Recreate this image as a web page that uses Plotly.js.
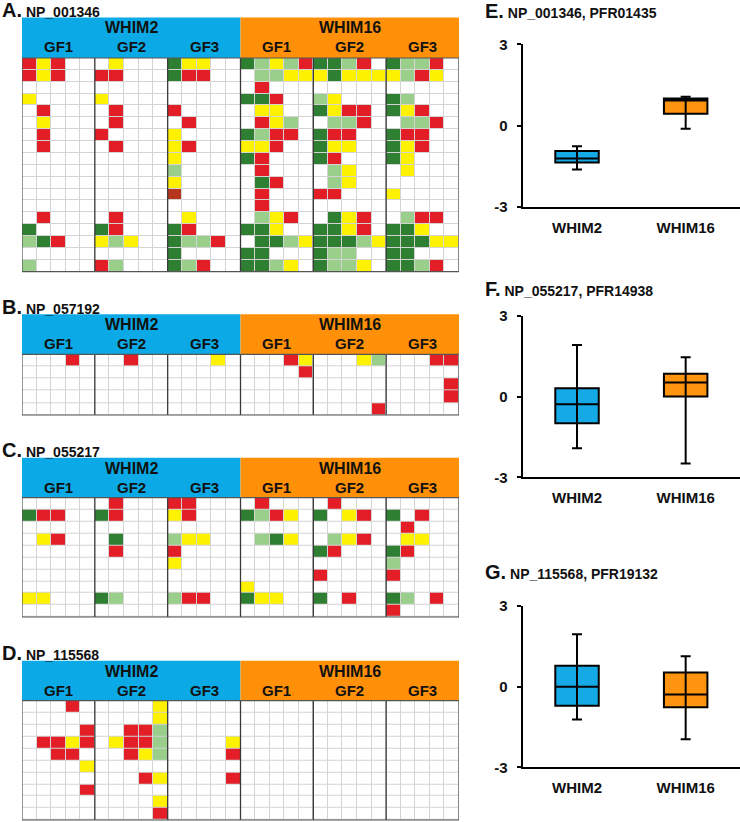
<!DOCTYPE html>
<html><head><meta charset="utf-8">
<script src="https://cdn.plot.ly/plotly-3.0.1.min.js"></script>
<style>html,body{margin:0;padding:0;background:#fff}#chart{width:740px;height:822px}</style>
</head><body><div id="chart"></div>
<script>
// ---------- data ----------
const lines = ['WHIM2', 'WHIM16'];
const gfLabels = ['GF1', 'GF2', 'GF3'];
// cell codes: . none, R red, Y yellow, L light green, G dark green, D dark red
// each row: WHIM2 GF1|GF2|GF3 | WHIM16 GF1|GF2|GF3 (5 columns each)
const panelA = [
  'RYR.. .Y... GYY.. GLYLR GGLR. GLLR.',
  'RYR.. RR... GRR.. .LLYY YGYYY YLRY.',
  '..... ..... ..... .R... ..... .....',
  'Y.... Y.... ..... GGR.. LY... GL...',
  '.R... .R... R.... .YY.. GYRR. GYR..',
  '.Y... .R... .R... .RYL. .LLR. .LLR.',
  '.R... R.... Y.... GLRR. GRR.. GRR..',
  '.R... .R... YR... YYR.. GYY.. GYR..',
  '..... ..... Y.... GR... GR... GY...',
  '..... ..... L.... .R... .LY.. .Y...',
  '..... ..... Y.... .GR.. .LY.. .....',
  '..... ..... D.... .R... RR... Y....',
  '..... ..... ..... .R... ..... .....',
  '.R... .R... .Y... .LYR. .GYR. .LRR.',
  'G.... GR... GR... GGY.. GGYR. GGY..',
  'LGR.. YLY.. GLLR. .GGLY GGGLY GGGYY',
  '..... ..... G.... GG... GLL.. GG...',
  'L.... RL... GLR.. GGLY. GLLY. GGLR.'
];
const panelB = [
  '...R. ..R.. ...Y. ...RY ...YL ...RR',
  '..... ..... ..... ....R ..... .....',
  '..... ..... ..... ..... ..... ....R',
  '..... ..... ..... ..... ..... ....R',
  '..... ..... ..... ..... ....R .....'
];
const panelC = [
  '..... .R... RR... .R... .R... .....',
  'GRR.. GR... YR... GLRY. G.YR. G.R..',
  '..... ..... ..... ..... ..... .R...',
  '.YR.. .G... LYY.. .LGY. .LYR. .YY..',
  '..... .R... R.... ..... GR... GR...',
  '..... ..... Y.... ..... ..... L....',
  '..... ..... ..... ..... R.... R....',
  '..... ..... ..... Y.... ..... .....',
  'YY... GL... LRR.. GYY.. G.R.. GL.R.',
  '..... ..... ..... ..... ..... R....'
];
const panelD = [
  '...R. ....Y ..... ..... ..... .....',
  '..... ....Y ..... ..... ..... .....',
  '....R ..RRL ..... ..... ..... .....',
  '.RRYR .YRRL ....Y ..... ..... .....',
  '..RR. ..RYL ....R ..... ..... .....',
  '....Y ..... ..... ..... ..... .....',
  '..... ...RY ....R ..... ..... .....',
  '....R ..... ..... ..... ..... .....',
  '..... ....Y ..... ..... ..... .....',
  '..... ....R ..... ..... ..... .....'
];
const proteins = ['NP_001346', 'NP_057192', 'NP_055217', 'NP_115568'];
const panelLetters = ['A.', 'B.', 'C.', 'D.'];

// box plots (E, F, G)
const boxCats = ['WHIM2', 'WHIM16'];
const boxTitles = ['NP_001346, PFR01435', 'NP_055217, PFR14938', 'NP_115568, PFR19132'];
const boxLetters = ['E.', 'F.', 'G.'];
const yTickVals = [-3, 0, 3];
const yTickText = ['-3', '0', '3'];
const eLo = [-1.63, -0.12], eQ1 = [-1.37, 0.43], eMed = [-1.22, 0.92], eQ3 = [-0.94, 1.00], eHi = [-0.77, 1.06];
const fLo = [-1.92, -2.49], fQ1 = [-0.99, 0.01], fMed = [-0.28, 0.53], fQ3 = [0.31, 0.85], fHi = [1.92, 1.47];
const gLo = [-1.22, -1.96], gQ1 = [-0.71, -0.77], gMed = [0.00, -0.29], gQ3 = [0.78, 0.53], gHi = [1.95, 1.13];

// ---------- styling ----------
const W = 740, H = 822;
const FONT = 'Liberation Sans, Arial, sans-serif';
const BLUE = '#0BAAE6', ORANGE = '#FF9008';
const BOXBLUE = '#15A9E6', BOXORANGE = '#FF9410';
const codeMap = {'.': 0, 'R': 1, 'Y': 2, 'L': 3, 'G': 4, 'D': 5};
const cellColors = ['#ffffff', '#E31E26', '#FFF200', '#99CF8A', '#2F7F33', '#B5361C'];
const colorscale = [];
cellColors.forEach((c, k) => { colorscale.push([k / 6, c]); colorscale.push([(k + 1) / 6, c]); });

const px = v => v / W;
const py = v => 1 - v / H;

const heatGeom = [
  {headerTop: 17.5, gridTop: 58, gridBottom: 271.7, labelY: 10},
  {headerTop: 314.3, gridTop: 354.3, gridBottom: 415, labelY: 306.5},
  {headerTop: 457.7, gridTop: 497.7, gridBottom: 617, labelY: 450},
  {headerTop: 660.7, gridTop: 700.7, gridBottom: 820, labelY: 653}
];
const heatX0 = 22, heatX1 = 459;
const boxGeom = [
  {top: 44.3, bottom: 206.7, labelY: 11},
  {top: 316, bottom: 477.3, labelY: 288.5},
  {top: 606, bottom: 767.3, labelY: 571.5}
];
const boxX0 = 522.7, boxX1 = 740;

const data = [];
const shapes = [];
const annotations = [];
const layout = {
  width: W, height: H, margin: {l: 0, r: 0, t: 0, b: 0},
  paper_bgcolor: '#fff', plot_bgcolor: 'rgba(0,0,0,0)',
  showlegend: false, font: {family: FONT, color: '#000'},
  shapes, annotations
};

const panels = [panelA, panelB, panelC, panelD];
const nCols = lines.length * gfLabels.length * 5;
panels.forEach((rows, i) => {
  const ax = i + 1;
  const xa = 'x' + ax, ya = 'y' + ax;
  const z = rows.map(r => r.replace(/ /g, '').split('').map(ch => codeMap[ch]));
  const g = heatGeom[i];
  data.push({
    type: 'heatmap', z, xaxis: xa, yaxis: ya,
    x: [...Array(nCols).keys()], y: [...Array(z.length).keys()],
    colorscale, zmin: -0.5, zmax: 5.5, showscale: false,
    xgap: 1, ygap: 1, hoverinfo: 'skip'
  });
  layout['xaxis' + ax] = {domain: [px(heatX0), px(heatX1)], range: [-0.5, nCols - 0.5],
    showgrid: false, zeroline: false, showticklabels: false, ticks: '', anchor: ya, fixedrange: true};
  layout['yaxis' + ax] = {domain: [py(g.gridBottom), py(g.gridTop)], range: [z.length - 0.5, -0.5],
    showgrid: false, zeroline: false, showticklabels: false, ticks: '', anchor: xa, fixedrange: true};
  // grid background
  shapes.push({type: 'rect', xref: xa + ' domain', yref: ya + ' domain', x0: 0, x1: 1, y0: 0, y1: 1,
    fillcolor: '#d4d4d4', line: {width: 0}, layer: 'below'});
  // header blocks
  lines.forEach((ln, li) => {
    const c0 = li * 15 - 0.5, c1 = c0 + 15;
    shapes.push({type: 'rect', xref: xa, yref: 'paper', x0: c0, x1: c1,
      y0: py(g.gridTop), y1: py(g.headerTop), fillcolor: li === 0 ? BLUE : ORANGE, line: {width: 0}});
    annotations.push({xref: xa, yref: 'paper', x: c0 + 7.5, y: py(g.headerTop + 10.5), text: ln,
      showarrow: false, xanchor: 'center', yanchor: 'middle',
      font: {family: FONT, size: 16, weight: 700, color: '#111'}});
    gfLabels.forEach((gf, gi) => {
      annotations.push({xref: xa, yref: 'paper', x: c0 + gi * 5 + 2.5, y: py(g.headerTop + 29.5), text: gf,
        showarrow: false, xanchor: 'center', yanchor: 'middle',
        font: {family: FONT, size: 15, weight: 700, color: '#111'}});
    });
  });
  // group separators
  for (let k = 1; k < 6; k++) {
    shapes.push({type: 'line', xref: xa, yref: ya + ' domain', x0: k * 5 - 0.5, x1: k * 5 - 0.5, y0: 0, y1: 1,
      line: {color: '#3a3a3a', width: 1.3}});
  }
  shapes.push({type: 'rect', xref: xa, yref: ya + ' domain', x0: -0.5, x1: nCols - 0.5, y0: 0, y1: 1,
    line: {color: '#555', width: 1.2}, fillcolor: 'rgba(0,0,0,0)'});
  // panel label
  annotations.push({xref: 'paper', yref: 'paper', x: 0, y: py(g.labelY), xanchor: 'left', yanchor: 'middle',
    showarrow: false, text: '<b><span style="font-size:20px">' + panelLetters[i] + '</span> ' + proteins[i] + '</b>',
    font: {family: FONT, size: 14, color: '#111'}});
});

const boxSets = [
  [eLo, eQ1, eMed, eQ3, eHi],
  [fLo, fQ1, fMed, fQ3, fHi],
  [gLo, gQ1, gMed, gQ3, gHi]
];
boxSets.forEach((s, i) => {
  const ax = i + 5;
  const xa = 'x' + ax, ya = 'y' + ax;
  const [lo, q1, med, q3, hi] = s;
  const g = boxGeom[i];
  boxCats.forEach((cat, ci) => {
    data.push({
      type: 'box', x: [cat], q1: [q1[ci]], median: [med[ci]], q3: [q3[ci]],
      lowerfence: [q1[ci]], upperfence: [q3[ci]], xaxis: xa, yaxis: ya,
      fillcolor: ci === 0 ? BOXBLUE : BOXORANGE, line: {color: '#000', width: 2},
      width: 0.4, boxpoints: false, hoverinfo: 'skip'
    });
  });
  data.push({
    type: 'scatter', mode: 'markers', x: boxCats, y: med, xaxis: xa, yaxis: ya,
    marker: {size: 1, color: '#000'}, hoverinfo: 'skip',
    error_y: {type: 'data', symmetric: false, array: hi.map((h, k) => h - med[k]),
      arrayminus: lo.map((l, k) => med[k] - l), color: '#000', thickness: 2, width: 5}
  });
  layout['xaxis' + ax] = {domain: [px(boxX0), px(boxX1)], type: 'category', range: [-0.5, 1.5],
    categoryarray: boxCats, showline: true, linecolor: '#000', linewidth: 2, ticks: '',
    showgrid: false, zeroline: false, anchor: ya, ticklabelstandoff: 6,
    tickfont: {family: FONT, size: 15, weight: 700, color: '#111'}, fixedrange: true};
  layout['yaxis' + ax] = {domain: [py(g.bottom), py(g.top)], range: [-3, 3], tickvals: yTickVals,
    ticktext: yTickText,
    showline: true, linecolor: '#000', linewidth: 2, ticks: 'outside', ticklen: 4, tickwidth: 2,
    tickcolor: '#000', showgrid: false, zeroline: false, anchor: xa, ticklabelstandoff: 6,
    tickfont: {family: FONT, size: 15, weight: 700, color: '#111'}, fixedrange: true};
  annotations.push({xref: 'paper', yref: 'paper', x: px(483), y: py(g.labelY), xanchor: 'left', yanchor: 'middle',
    showarrow: false, text: '<b><span style="font-size:20px">' + boxLetters[i] + '</span> ' + boxTitles[i] + '</b>',
    font: {family: FONT, size: 14, color: '#111'}});
});

Plotly.newPlot('chart', data, layout, {staticPlot: true, displayModeBar: false});
</script>
</body></html>
